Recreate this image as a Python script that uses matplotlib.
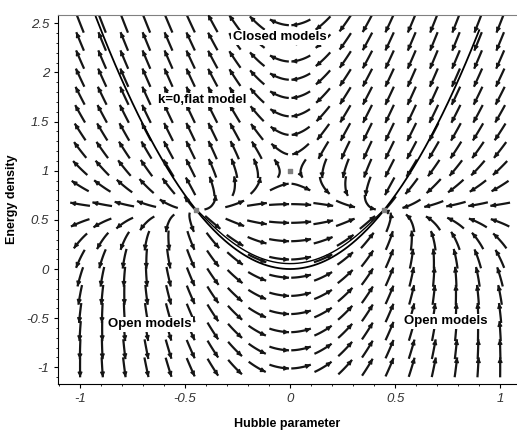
import numpy as np
import matplotlib
matplotlib.use("Agg")
import matplotlib.pyplot as plt
from matplotlib.collections import LineCollection

# phase portrait: Hubble parameter H vs energy density rho
# H' = -H^2 - (rho - rho_E)/2 ,  rho' = -gamma*H*(rho - Lam)
Lam = 0.6        # rho on the de Sitter points
rho_E = 1.0      # static (Einstein) point
gamma = 5.0

H_grid = np.linspace(-1, 1, 20)
rho_grid = np.linspace(-1, 2.5, 20)

# marked equilibria (grey squares)
eq_H = [-0.447, 0.447, 0.0]
eq_rho = [0.6, 0.6, 1.0]

# text labels (text, H, rho)
lab_txt = ["Closed models", "k=0,flat model", "Open models", "Open models"]
lab_H = [-0.05, -0.42, -0.67, 0.74]
lab_rho = [2.36, 1.72, -0.56, -0.53]

# flat model curve rho = 3 H^2
flat_H = np.linspace(-0.925, 0.9, 200)
flat_rho = 3 * flat_H**2


def field(h, r):
    return -h**2 - (r - rho_E) / 2.0, -gamma * h * (r - Lam)


fig = plt.figure(figsize=(5.17, 4.32), dpi=100)
ax = fig.add_axes([58 / 517, 1 - 384 / 432, 1 - 58 / 517, (384 - 15) / 432])
ax.set_xlim(-1.105, 1.08)
ax.set_ylim(-1.17, 2.585)

# pixels per data unit
sx = 210.0
sy = 98.0


def trace(h, r, length, n=10):
    # short curve following the field, measured in screen pixels
    step = length / n
    pts_f = [(h, r)]
    x, y = h, r
    for _ in range(n):
        a, b = field(x, y)
        dx, dy = a * sx, b * sy
        nn = np.hypot(dx, dy)
        if nn == 0:
            break
        x += step * dx / nn / sx
        y += step * dy / nn / sy
        pts_f.append((x, y))
    pts_b = []
    x, y = h, r
    for _ in range(n):
        a, b = field(x, y)
        dx, dy = a * sx, b * sy
        nn = np.hypot(dx, dy)
        if nn == 0:
            break
        x -= step * dx / nn / sx
        y -= step * dy / nn / sy
        pts_b.append((x, y))
    return pts_b[::-1] + pts_f


segs = []
heads = []
for h in H_grid:
    for r in rho_grid:
        p = trace(h, r, 10.0)
        segs.append(p)
        heads.append((p[-3], p[-1]))

ax.add_collection(LineCollection(segs, colors="#151515", linewidths=1.6))
for a, b in heads:
    ax.annotate("", xy=b, xytext=a,
                arrowprops=dict(arrowstyle="-|>", color="#151515", lw=1.0,
                                mutation_scale=6.5, shrinkA=0, shrinkB=0))

# flat model and a neighbouring closed trajectory near the bottom
ax.plot(flat_H, flat_rho, color="black", lw=1.3)


def orbit(h, r, sign, dt=0.002, nmax=4000):
    xs, ys = [h], [r]
    for _ in range(nmax):
        a, b = field(h, r)
        h += sign * dt * a
        r += sign * dt * b
        if r > 0.6 or abs(h) > 1.1:
            break
        xs.append(h)
        ys.append(r)
    return xs, ys


xb, yb = orbit(0.0, 0.055, -1)
xf, yf = orbit(0.0, 0.055, 1)
ax.plot(xb[::-1] + xf, yb[::-1] + yf, color="black", lw=1.0)

ax.scatter(eq_H, eq_rho, marker="s", s=10, color="#808080", zorder=5)

for t, h, r in zip(lab_txt, lab_H, lab_rho):
    ax.text(h, r, t, ha="center", va="center", fontsize=9.5, fontweight="bold",
            family="Liberation Sans", zorder=6,
            bbox=dict(facecolor="white", edgecolor="none", pad=1.0))

# axes in Maple style
ax.spines["right"].set_visible(False)
ax.spines["top"].set_color("#808080")
ax.set_xticks([-1, -0.5, 0, 0.5, 1])
ax.set_xticklabels(["-1", "-0.5", "0", "0.5", "1"])
ax.set_yticks([-1, -0.5, 0, 0.5, 1, 1.5, 2, 2.5])
ax.set_yticklabels(["-1", "-0.5", "0", "0.5", "1", "1.5", "2", "2.5"])
ax.set_xticks(np.arange(-1.1, 1.05, 0.1), minor=True)
ax.set_yticks(np.arange(-1.1, 2.55, 0.1), minor=True)
ax.tick_params(which="major", length=3, width=0.8, labelsize=9.5, labelcolor="#333333")
ax.tick_params(which="minor", length=1.5, width=0.6)
for lb in ax.get_xticklabels() + ax.get_yticklabels():
    lb.set_fontstyle("italic")
    lb.set_family("Liberation Sans")

ax.set_xlabel("Hubble parameter", fontsize=9, fontweight="bold",
              family="Liberation Sans")
ax.set_ylabel("Energy density", fontsize=9, fontweight="bold",
              family="Liberation Sans")
ax.xaxis.set_label_coords(0.5, -0.092)
ax.yaxis.set_label_coords(-0.088, 0.5)

fig.savefig("out.png", dpi=100)
